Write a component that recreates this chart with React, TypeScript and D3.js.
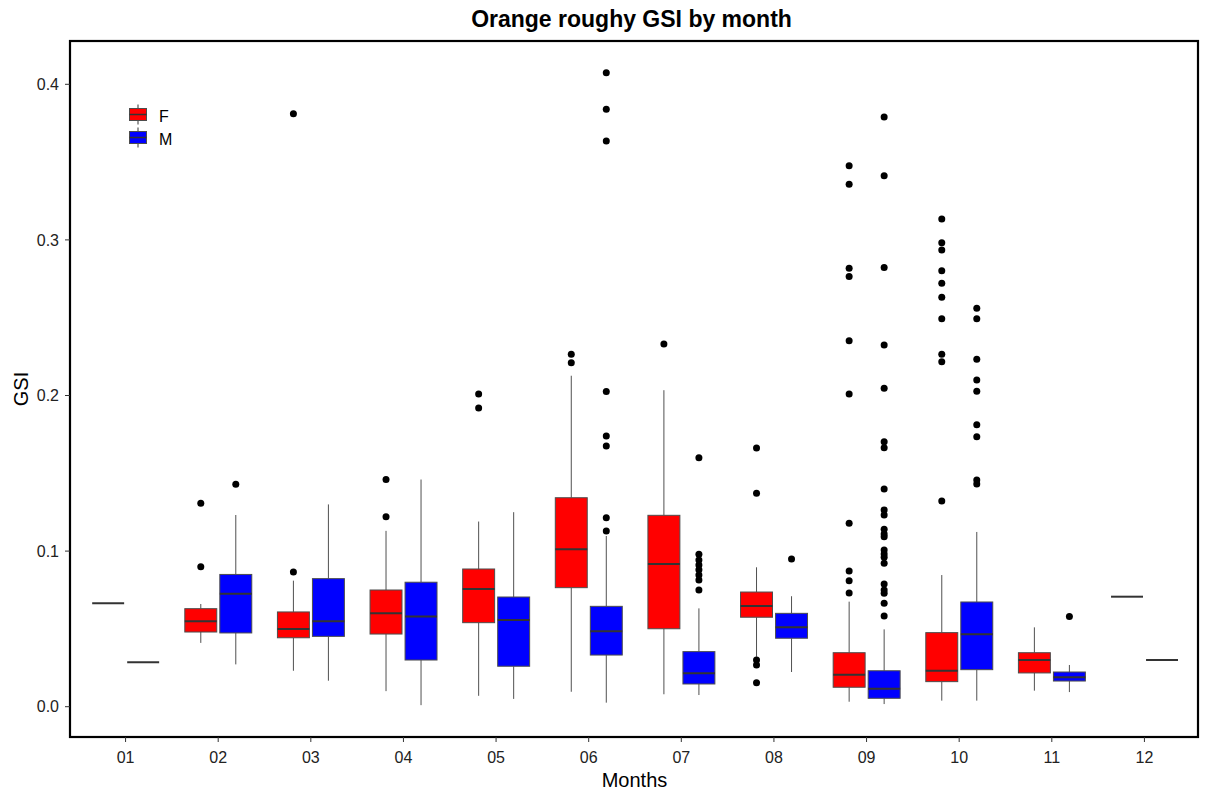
import React from "react";
import * as d3 from "d3";

const months = ["01","02","03","04","05","06","07","08","09","10","11","12"];
const sexes = ["F","M"];
const sexColors = ["#ff0000","#0000ff"];
const yTicks = [0, 0.1, 0.2, 0.3, 0.4];

// per month: [whiskerLow, q1, median, q3, whiskerHigh]
const statsF: number[][] = [
  [0.0665,0.0665,0.0665,0.0665,0.0665],
  [0.041,0.048,0.0549,0.063,0.066],
  [0.0231,0.0443,0.050,0.0609,0.081],
  [0.010,0.0467,0.060,0.075,0.113],
  [0.007,0.054,0.0757,0.0885,0.119],
  [0.0096,0.0765,0.1012,0.1343,0.2127],
  [0.008,0.0501,0.0917,0.123,0.2034],
  [0.0321,0.0575,0.0647,0.0737,0.0896],
  [0.0032,0.0125,0.0206,0.0347,0.0675],
  [0.0039,0.0161,0.0231,0.0476,0.0846],
  [0.0103,0.0217,0.030,0.0347,0.051],
  [0.0707,0.0707,0.0707,0.0707,0.0707],
];
const statsM: number[][] = [
  [0.0285,0.0285,0.0285,0.0285,0.0285],
  [0.0272,0.0474,0.0726,0.085,0.1232],
  [0.0167,0.0452,0.0549,0.0823,0.130],
  [0.001,0.030,0.058,0.080,0.146],
  [0.005,0.026,0.0557,0.0705,0.125],
  [0.0026,0.0332,0.0485,0.0645,0.1097],
  [0.0075,0.0146,0.0215,0.0354,0.0632],
  [0.0223,0.044,0.051,0.060,0.071],
  [0.0017,0.0054,0.0116,0.0231,0.0497],
  [0.0039,0.0238,0.0465,0.0673,0.1123],
  [0.0094,0.0165,0.019,0.0223,0.0268],
  [0.030,0.030,0.030,0.030,0.030],
];
const outliersF: number[][] = [
  [],
  [0.1307,0.090],
  [0.381,0.0866],
  [0.146,0.122],
  [0.201,0.192],
  [0.2265,0.221],
  [0.2331],
  [0.1663,0.1372,0.030,0.0268,0.0154],
  [0.3477,0.3357,0.2818,0.2764,0.2352,0.201,0.1179,0.0872,0.081,0.0731],
  [0.3135,0.2982,0.2935,0.2802,0.2721,0.2631,0.2494,0.2265,0.2217,0.1322],
  [],
  [],
];
const outliersM: number[][] = [
  [],
  [0.143],
  [],
  [],
  [],
  [0.4075,0.384,0.3636,0.2025,0.174,0.1676,0.1215,0.1129],
  [0.160,0.098,0.0943,0.091,0.088,0.0847,0.0814,0.075],
  [0.095],
  [0.379,0.3413,0.2822,0.2325,0.2047,0.1703,0.1665,0.1399,0.1264,0.1232,0.114,0.111,0.1093,0.1007,0.0981,0.096,0.0922,0.0789,0.075,0.0729,0.0665,0.0583],
  [0.256,0.2494,0.2233,0.21,0.2027,0.1812,0.1735,0.1457,0.1431],
  [0.058],
  [],
];

const W = 1205, H = 794;
const panel = { left: 70, top: 41, right: 1198, bottom: 737 };

export default function App() {
  const x = d3.scalePoint<string>().domain(months).range([panel.left, 1200]).padding(0.6);
  const step = x.step();
  const y = d3.scaleLinear().domain([0, 0.4]).range([706.7, 84.3]);
  const boxW = step * 0.345;
  const offs = [-step * 0.188, step * 0.19];
  const allStats = [statsF, statsM];
  const allOut = [outliersF, outliersM];
  const font = "Liberation Sans, Arial, sans-serif";

  return (
    <svg width={W} height={H} style={{ position: "absolute", left: 0, top: 0 }} fontFamily={font}>
      <rect x={0} y={0} width={W} height={H} fill="#fff" />
      {sexes.map((s, si) =>
        months.map((m, mi) => {
          const st = allStats[si][mi];
          const cx = (x(m) as number) + offs[si];
          const x0 = cx - boxW / 2;
          const [lo, q1, med, q3, hi] = st;
          return (
            <g key={s + m}>
              <line x1={cx} x2={cx} y1={y(q3)} y2={y(hi)} stroke="#333" strokeWidth={1} opacity={0.85} />
              <line x1={cx} x2={cx} y1={y(q1)} y2={y(lo)} stroke="#333" strokeWidth={1} opacity={0.85} />
              <rect x={x0} y={y(q3)} width={boxW} height={Math.max(0, y(q1) - y(q3))} fill={sexColors[si]} stroke="#4d4d4d" strokeWidth={1} />
              <line x1={x0} x2={x0 + boxW} y1={y(med)} y2={y(med)} stroke="#333" strokeWidth={2} />
              {allOut[si][mi].map((v, k) => (
                <circle key={k} cx={cx} cy={y(v)} r={3.5} fill="#000" />
              ))}
            </g>
          );
        })
      )}
      <rect x={panel.left} y={panel.top} width={panel.right - panel.left} height={panel.bottom - panel.top} fill="none" stroke="#000" strokeWidth={2.2} />
      {yTicks.map((t) => (
        <g key={t}>
          <line x1={panel.left - 5} x2={panel.left} y1={y(t)} y2={y(t)} stroke="#333" />
          <text x={panel.left - 11} y={y(t)} dy="0.36em" textAnchor="end" fontSize={16} fill="#222">{t.toFixed(1)}</text>
        </g>
      ))}
      {months.map((m) => (
        <g key={m}>
          <line x1={x(m)} x2={x(m)} y1={panel.bottom} y2={panel.bottom + 5} stroke="#333" />
          <text x={x(m)} y={763} textAnchor="middle" fontSize={16} fill="#222">{m}</text>
        </g>
      ))}
      <text x={631.5} y={27} textAnchor="middle" fontSize={23} fontWeight="bold" fill="#000">Orange roughy GSI by month</text>
      <text x={634.5} y={787} textAnchor="middle" fontSize={20} fill="#000">Months</text>
      <text transform={`translate(28, 389) rotate(-90)`} textAnchor="middle" fontSize={20} fill="#000">GSI</text>
      {sexes.map((s, si) => {
        const ky = 108.5 + si * 23;
        return (
          <g key={s}>
            <line x1={138} x2={138} y1={ky - 4} y2={ky + 16} stroke="#333" />
            <rect x={129.5} y={ky} width={17} height={12} fill={sexColors[si]} stroke="#4d4d4d" />
            <line x1={129.5} x2={146.5} y1={ky + 6} y2={ky + 6} stroke="#333" strokeWidth={1.5} />
            <text x={159} y={ky + 13} fontSize={16} fill="#000">{s}</text>
          </g>
        );
      })}
    </svg>
  );
}
